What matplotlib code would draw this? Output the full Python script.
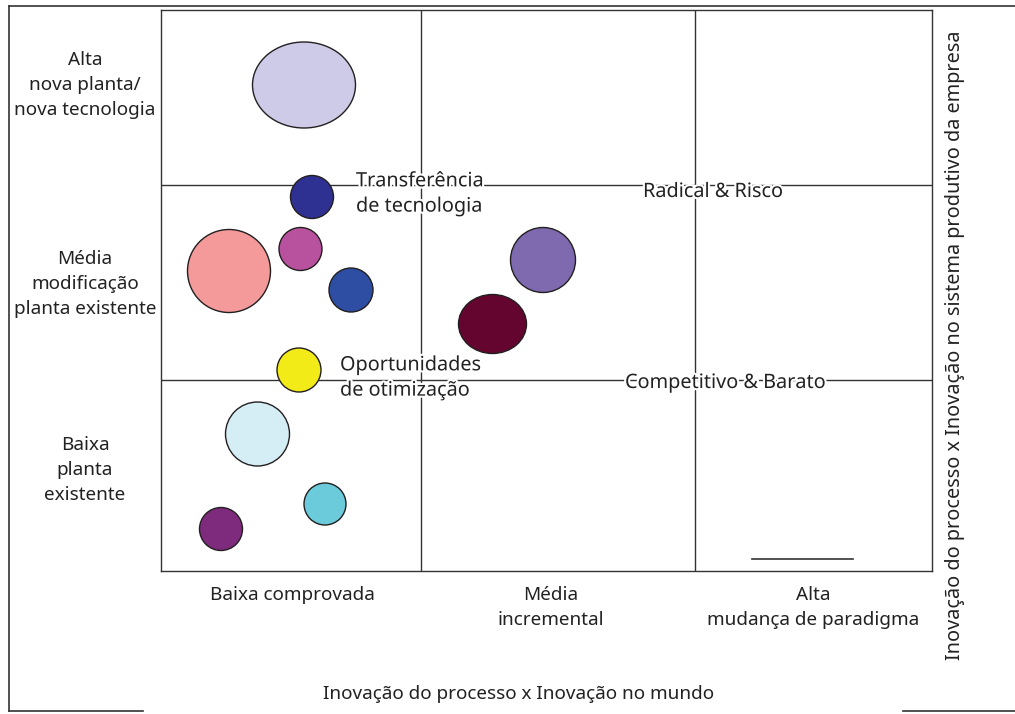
import matplotlib
matplotlib.use("Agg")
import matplotlib.pyplot as plt
from matplotlib.patches import Ellipse
import matplotlib.patheffects as pe

# bubble data (plot units: x 0..771, y 0..561, origin bottom-left)
bub_x = [143, 151, 139.5, 68, 190, 138, 96.5, 164, 60, 382, 331.5]
bub_y = [486, 374, 322, 300, 281, 201, 137, 67, 42, 311, 247]
bub_w = [103, 43, 43, 83, 44, 44, 64, 42, 43, 65, 68]
bub_h = [86, 43, 43, 83, 44, 44, 64, 42, 43, 65, 59]
bub_col = ['#CECBE8', '#2E3192', '#B8519E', '#F49A9A', '#2D4EA2', '#F2EB17',
           '#D5EDF4', '#6BCBDB', '#7E2A7D', '#7F6AB0', '#63052F']

x_div = [260, 534]
y_div = [191, 386]

row_labels = ['Baixa\nplanta\nexistente', 'Média\nmodificação\nplanta existente',
              'Alta\nnova planta/\nnova tecnologia']
row_pos = [101, 287, 486]
col_labels = ['Baixa comprovada', 'Média\nincremental', 'Alta\nmudança de paradigma']
col_pos = [131, 390, 652]

notes = [('Transferência\nde tecnologia', 195, 377),
         ('Oportunidades\nde otimização', 179, 193),
         ('Radical & Risco', 482, 379),
         ('Competitivo & Barato', 464, 188)]

plt.rcParams['font.family'] = ['Noto Sans', 'DejaVu Sans']
fs = 13.6
ink = '#333333'

fig = plt.figure(figsize=(10.15, 7.14), dpi=100)
W, H = 1015, 714
ax = fig.add_axes([161 / W, (H - 571) / H, 771 / W, 561 / H])
ax.set_xlim(0, 771)
ax.set_ylim(0, 561)
ax.set_xticks([])
ax.set_yticks([])
for s in ax.spines.values():
    s.set_color(ink)
    s.set_linewidth(1.0)

for xv in x_div:
    ax.axvline(xv, color=ink, lw=1.0, zorder=1)
for yv in y_div:
    ax.axhline(yv, color=ink, lw=1.0, zorder=1)

# short line bottom right
ax.plot([591, 692], [12, 12], color=ink, lw=1.2)

for x, y, w, h, c in zip(bub_x, bub_y, bub_w, bub_h, bub_col):
    ax.add_patch(Ellipse((x, y), w, h, facecolor=c, edgecolor='#231F20', lw=1.0, zorder=3))

halo = [pe.withStroke(linewidth=3, foreground='white')]
for txt, x, y in notes:
    ax.text(x, y, txt, fontsize=14.3, ha='left', va='center', linespacing=1.35,
            color='#222222', zorder=4, path_effects=halo)

for txt, y in zip(row_labels, row_pos):
    ax.text(-76, y, txt, fontsize=fs, ha='center', va='center', linespacing=1.48,
            color='#222222', clip_on=False)
for txt, x in zip(col_labels, col_pos):
    ax.text(x, -15, txt, fontsize=fs, ha='center', va='top', linespacing=1.48,
            color='#222222', clip_on=False)

fig.text(519 / W, 1 - 694 / H, 'Inovação do processo x Inovação no mundo', fontsize=fs,
         ha='center', va='center', color='#222222')
fig.text(955 / W, 1 - 345 / H,
         'Inovação do processo x Inovação no sistema produtivo da empresa',
         fontsize=14.3, ha='center', va='center', rotation=90, color='#222222')

# outer frame pieces
fig.add_artist(plt.Line2D([9 / W, 1], [1 - 5.5 / H] * 2, color=ink, lw=1.2))
fig.add_artist(plt.Line2D([9 / W, 9 / W], [1 - 5.5 / H, 1 - 710.5 / H], color=ink, lw=1.2))
fig.add_artist(plt.Line2D([9 / W, 143 / W], [1 - 710.5 / H] * 2, color=ink, lw=1.2))
fig.add_artist(plt.Line2D([903 / W, 1], [1 - 711 / H] * 2, color=ink, lw=1.2))

fig.savefig('out.png', dpi=100)
